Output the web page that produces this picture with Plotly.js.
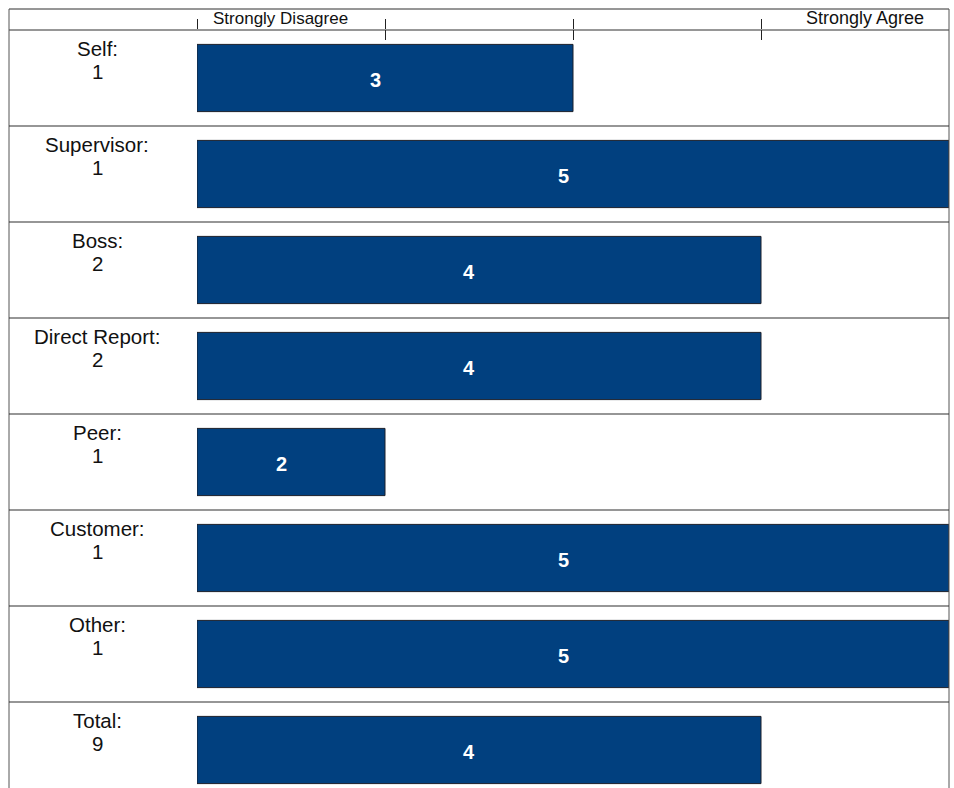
<!DOCTYPE html>
<html>
<head>
<meta charset="utf-8">
<script src="https://cdn.plot.ly/plotly-3.0.1.min.js"></script>
<style>html,body{margin:0;padding:0;background:#fff;}#chart{width:954px;height:788px;}</style>
</head>
<body>
<div id="chart"></div>
<script>
// Data
const raters = ["Self", "Supervisor", "Boss", "Direct Report", "Peer", "Customer", "Other", "Total"];
const counts = [1, 1, 2, 2, 1, 1, 1, 9];
const scores = [3, 5, 4, 4, 2, 5, 5, 4];
const scaleMin = 1;
const scaleMax = 5;
const scaleTicks = [1, 2, 3, 4];
const scaleLabels = ["Strongly Disagree", "Strongly Agree"];

const FONT = "Liberation Sans, Arial, sans-serif";
const BAR = "#01407F";
const LINE = "#2e2e2e";

const W = 954, H = 788;
const L = 197, R = 5, T = 30, B = 0;
const plotW = W - L - R, plotH = H - T - B;
const rowPx = 96;
const nVisibleRows = plotH / rowPx;

const trace = {
  type: "bar",
  orientation: "h",
  y: raters,
  base: scaleMin,
  x: scores.map(v => v - scaleMin),
  width: 0.7,
  marker: {color: BAR, line: {color: "#1b1f2a", width: 1}},
  hoverinfo: "skip"
};
// empty helper trace so the second (inside-tick) axis is drawn
const tickHelper = {type: "scatter", x: [], y: [], xaxis: "x2", yaxis: "y", hoverinfo: "skip", showlegend: false};

const annotations = [];
raters.forEach((r, i) => {
  annotations.push({
    xref: "paper", yref: "y", x: (97 - L) / plotW, y: i - 0.5,
    xanchor: "center", yanchor: "middle", yshift: -18,
    text: r + ":", showarrow: false,
    font: {family: FONT, size: 20.5, color: "#111"}
  });
  annotations.push({
    xref: "paper", yref: "y", x: (97 - L) / plotW, y: i - 0.5,
    xanchor: "center", yanchor: "middle", yshift: -41.5,
    text: String(counts[i]), showarrow: false,
    font: {family: FONT, size: 20.5, color: "#111"}
  });
  annotations.push({
    xref: "x", yref: "y", x: (scaleMin + scores[i]) / 2, y: i,
    xanchor: "center", yanchor: "middle", xshift: -10, yshift: -1.5,
    text: "<b>" + scores[i] + "</b>", showarrow: false,
    font: {family: FONT, size: 20, color: "#ffffff"}
  });
});
annotations.push({
  xref: "paper", yref: "paper", x: (280 - L) / plotW, y: 1 + (30 - 18) / plotH,
  xanchor: "center", yanchor: "middle", text: scaleLabels[0], showarrow: false,
  font: {family: FONT, size: 17, color: "#111"}
});
annotations.push({
  xref: "paper", yref: "paper", x: (865 - L) / plotW, y: 1 + (30 - 18) / plotH,
  xanchor: "center", yanchor: "middle", text: scaleLabels[1], showarrow: false,
  font: {family: FONT, size: 18, color: "#111"}
});

const px = v => (v - L) / plotW;
const py = v => 1 - (v - T) / plotH;
const shapes = [
  {type: "line", xref: "paper", yref: "paper", x0: px(9), x1: px(949), y0: py(9), y1: py(9), line: {color: LINE, width: 1}},
  {type: "line", xref: "paper", yref: "paper", x0: px(9), x1: px(949), y0: py(30), y1: py(30), line: {color: LINE, width: 1}},
  {type: "line", xref: "paper", yref: "paper", x0: px(9), x1: px(9), y0: py(9), y1: py(800), line: {color: "#555", width: 1}},
  {type: "line", xref: "paper", yref: "paper", x0: px(949), x1: px(949), y0: py(9), y1: py(800), line: {color: "#555", width: 1}}
];
for (let i = 0; i < raters.length - 1; i++) {
  shapes.push({type: "line", xref: "paper", yref: "y", x0: px(9), x1: px(949), y0: i + 0.5, y1: i + 0.5,
    line: {color: LINE, width: 1.2}});
}

const layout = {
  width: W, height: H,
  margin: {l: L, r: R, t: T, b: B, pad: 0},
  paper_bgcolor: "#fff", plot_bgcolor: "#fff",
  showlegend: false,
  bargap: 0.3,
  xaxis: {
    range: [scaleMin, scaleMax], side: "top", showgrid: false, zeroline: false, showline: false,
    tickvals: scaleTicks, ticks: "outside", ticklen: 10, tickwidth: 1, tickcolor: "#222",
    showticklabels: false, fixedrange: true
  },
  xaxis2: {
    range: [scaleMin, scaleMax], overlaying: "x", anchor: "y", side: "top", showgrid: false, zeroline: false,
    showline: false, tickvals: scaleTicks, ticks: "inside", ticklen: 10, tickwidth: 1, tickcolor: "#222",
    showticklabels: false, fixedrange: true
  },
  yaxis: {
    type: "category", categoryorder: "array", categoryarray: raters,
    range: [-0.5 + nVisibleRows, -0.5], showgrid: false, zeroline: false, showline: false,
    showticklabels: false, ticks: "", fixedrange: true
  },
  shapes: shapes,
  annotations: annotations
};

Plotly.newPlot("chart", [trace, tickHelper], layout, {displayModeBar: false, staticPlot: true});
</script>
</body>
</html>
